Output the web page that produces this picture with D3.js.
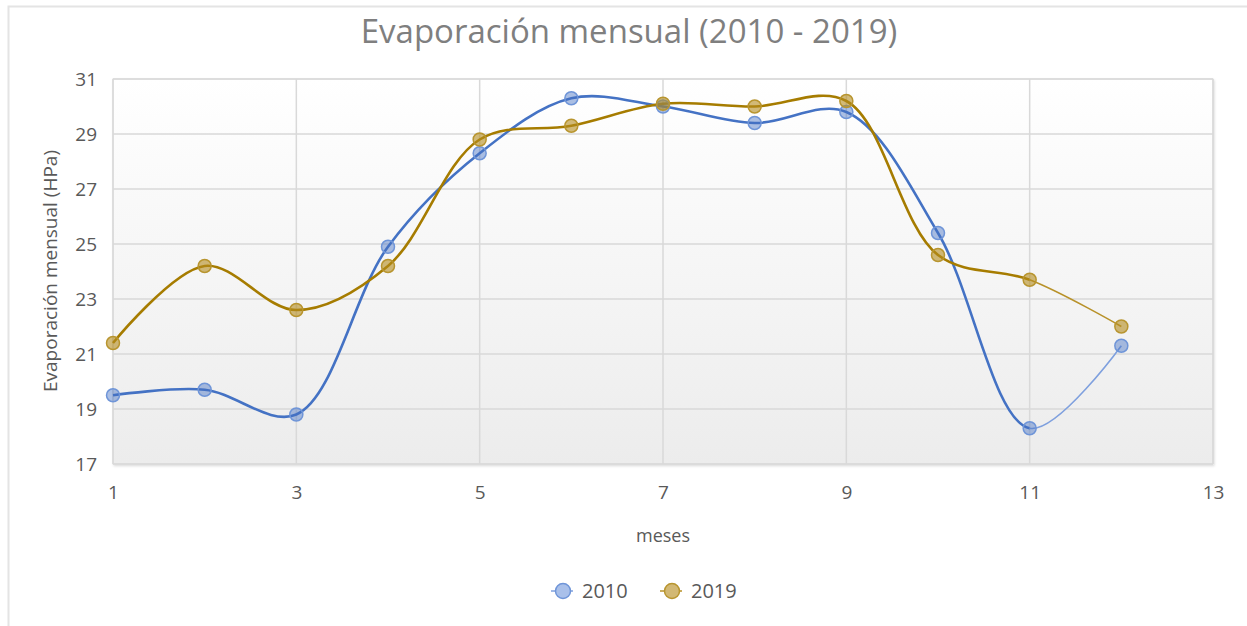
<!DOCTYPE html>
<html><head><meta charset="utf-8">
<script src="https://cdn.jsdelivr.net/npm/d3@7"></script>
<style>body{margin:0;background:#fff;} svg{display:block;font-family:"Open Sans",sans-serif;}</style>
</head><body>
<svg id="c" width="1247" height="626"></svg>
<script>
const months = [1,2,3,4,5,6,7,8,9,10,11,12];
const s2010 = [19.5,19.7,18.8,24.9,28.3,30.3,30.0,29.4,29.8,25.4,18.3,21.3];
const s2019 = [21.4,24.2,22.6,24.2,28.8,29.3,30.1,30.0,30.2,24.6,23.7,22.0];
const xTicks = [1,3,5,7,9,11,13];
const yTicks = [17,19,21,23,25,27,29,31];
const seriesNames = ["2010","2019"];

const svg = d3.select("#c");
const W=1247,H=626;
const m = {l:113, r:1213, t:79, b:464};
const x = d3.scaleLinear().domain([1,13]).range([m.l,m.r]);
const y = d3.scaleLinear().domain([17,31]).range([m.b,m.t]);

// outer border
svg.append("path").attr("d",`M8.5,${H} L8.5,6.5 L${W},6.5`).attr("fill","none").attr("stroke","#e4e4e4").attr("stroke-width",2);

const defs = svg.append("defs");
const g1 = defs.append("linearGradient").attr("id","bg").attr("x1",0).attr("y1",0).attr("x2",0).attr("y2",1);
g1.append("stop").attr("offset","0%").attr("stop-color","#ffffff");
g1.append("stop").attr("offset","100%").attr("stop-color","#ececec");
const f = defs.append("filter").attr("id","sh").attr("x","-5%").attr("y","-5%").attr("width","110%").attr("height","115%");
f.append("feDropShadow").attr("dx",1).attr("dy",1.5).attr("stdDeviation",1).attr("flood-color","#000").attr("flood-opacity",0.15);

svg.append("rect").attr("x",m.l).attr("y",m.t).attr("width",m.r-m.l).attr("height",m.b-m.t)
  .attr("fill","url(#bg)").attr("stroke","#d9d9d9").attr("filter","url(#sh)");

// gridlines
const grid = svg.append("g");
grid.selectAll("line.h").data(yTicks).join("line")
  .attr("x1",m.l).attr("x2",m.r).attr("y1",d=>y(d)).attr("y2",d=>y(d))
  .attr("stroke","#d9d9d9").attr("stroke-width",1.5);
grid.selectAll("line.v").data(xTicks).join("line")
  .attr("y1",m.t).attr("y2",m.b).attr("x1",d=>x(d)).attr("x2",d=>x(d))
  .attr("stroke","#d9d9d9").attr("stroke-width",1.5);

// axes (labels only)
const xa = svg.append("g").attr("transform",`translate(0,${m.b})`)
  .call(d3.axisBottom(x).tickValues(xTicks).tickSize(0).tickPadding(22).tickFormat(d3.format("d")));
xa.select(".domain").remove();
xa.selectAll("text").attr("fill","#595959").style("font-size","19px").style("font-family","Open Sans");
const ya = svg.append("g").attr("transform",`translate(${m.l},0)`)
  .call(d3.axisLeft(y).tickValues(yTicks).tickSize(0).tickPadding(16).tickFormat(d3.format("d")));
ya.select(".domain").remove();
ya.selectAll("text").attr("fill","#595959").style("font-size","19px").style("font-family","Open Sans");

// titles
svg.append("text").attr("x",629).attr("y",43).attr("text-anchor","middle")
  .attr("fill","#7f7f7f").style("font-size","33px").style("font-family","Open Sans").text("Evaporación mensual (2010 - 2019)");
svg.append("text").attr("x",663).attr("y",542).attr("text-anchor","middle")
  .attr("fill","#595959").style("font-size","18px").text("meses");
svg.append("text").attr("transform","translate(57,271) rotate(-90)").attr("text-anchor","middle")
  .attr("fill","#595959").style("font-size","19px").text("Evaporación mensual (HPa)");

const styles = [
  {line:"#4472c4", last:"#7fa0de", mfill:"rgba(68,114,196,0.45)", mstroke:"#6f95d8"},
  {line:"#a67c00", last:"#b8922a", mfill:"rgba(180,140,30,0.6)", mstroke:"#b8952f"}
];
const datasets = [s2010, s2019];
const line = d3.line().x(d=>x(d[0])).y(d=>y(d[1])).curve(d3.curveCatmullRom.alpha(0.5));

datasets.forEach((vals,i)=>{
  const pts = months.map((mo,j)=>[mo,vals[j]]);
  const st = styles[i];
  const cid = "clipA"+i, cid2="clipB"+i;
  defs.append("clipPath").attr("id",cid).append("rect").attr("x",0).attr("y",0).attr("width",x(11)).attr("height",H);
  defs.append("clipPath").attr("id",cid2).append("rect").attr("x",x(11)).attr("y",0).attr("width",W).attr("height",H);
  svg.append("path").attr("d",line(pts)).attr("fill","none").attr("stroke",st.line).attr("stroke-width",2.6).attr("clip-path",`url(#${cid})`);
  svg.append("path").attr("d",line(pts)).attr("fill","none").attr("stroke",st.last).attr("stroke-width",1.6).attr("clip-path",`url(#${cid2})`);
});
datasets.forEach((vals,i)=>{
  const st = styles[i];
  svg.append("g").selectAll("circle").data(months.map((mo,j)=>[mo,vals[j]])).join("circle")
    .attr("cx",d=>x(d[0])).attr("cy",d=>y(d[1])).attr("r",6.5)
    .attr("fill",st.mfill).attr("stroke",st.mstroke).attr("stroke-width",1.5);
});

// legend
const lg = svg.append("g");
const lx = [563,672];
seriesNames.forEach((n,i)=>{
  const st = styles[i];
  lg.append("line").attr("x1",lx[i]-12).attr("x2",lx[i]+10).attr("y1",591).attr("y2",591).attr("stroke",st.last).attr("stroke-width",1.5);
  lg.append("circle").attr("cx",lx[i]).attr("cy",591).attr("r",7.5).attr("fill",i==0?"#a9c0ea":"#d2b874").attr("stroke",st.mstroke).attr("stroke-width",1.5);
  lg.append("text").attr("x",lx[i]+19).attr("y",598).attr("fill","#595959").style("font-size","20px").text(n);
});
</script>
</body></html>
